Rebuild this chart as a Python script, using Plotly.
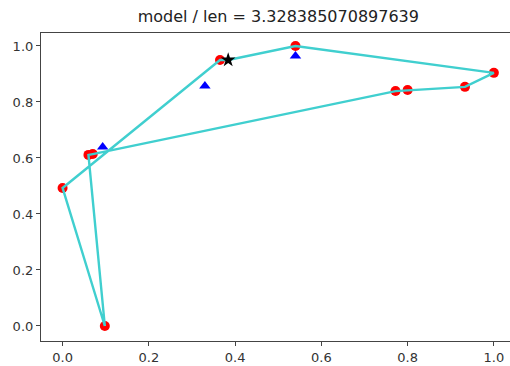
import plotly.graph_objects as go

# red city points
city_x = [0.098, 0.0, 0.365, 0.54, 1.0, 0.933, 0.80, 0.772, 0.07, 0.06]
city_y = [0.0, 0.493, 0.95, 1.0, 0.904, 0.854, 0.843, 0.839, 0.614, 0.611]

# tour path (closed)
tour_x = [0.098, 0.0, 0.365, 0.384, 0.54, 1.0, 0.933, 0.80, 0.772, 0.07, 0.06, 0.098]
tour_y = [0.0, 0.493, 0.95, 0.95, 1.0, 0.904, 0.854, 0.843, 0.839, 0.614, 0.611, 0.0]

# blue triangles
tri_x = [0.093, 0.33, 0.54]
tri_y = [0.639, 0.857, 0.964]

# black star
star_x = [0.384]
star_y = [0.95]

title_text = "model / len = 3.328385070897639"

fig = go.Figure()
fig.add_trace(go.Scatter(x=city_x, y=city_y, mode="markers",
                         marker=dict(color="red", size=10, line=dict(width=0)),
                         showlegend=False))
fig.add_trace(go.Scatter(x=tri_x, y=tri_y, mode="markers",
                         marker=dict(color="blue", size=10, symbol="triangle-up", line=dict(width=0)),
                         showlegend=False))
fig.add_trace(go.Scatter(x=tour_x, y=tour_y, mode="lines",
                         line=dict(color="#40CFCF", width=2.4),
                         showlegend=False))
fig.add_trace(go.Scatter(x=star_x, y=star_y, mode="markers",
                         marker=dict(color="black", size=11, symbol="star", line=dict(width=0)),
                         showlegend=False))

axis_common = dict(showgrid=False, zeroline=False, showline=True, linecolor="#444",
                   linewidth=1.2, ticks="outside", ticklen=4, tickcolor="#444",
                   tickfont=dict(family="DejaVu Sans", size=13, color="#333"))

fig.update_layout(
    width=510, height=366,
    margin=dict(l=41, r=0, t=33, b=25),
    plot_bgcolor="white", paper_bgcolor="white",
    title=dict(text=title_text, xref="paper", x=0.506, xanchor="center",
               yref="container", y=0.955, yanchor="middle",
               font=dict(family="DejaVu Sans", size=16, color="#222")),
    xaxis=dict(range=[-0.05, 1.0374], tickvals=[0, 0.2, 0.4, 0.6, 0.8, 1.0],
               ticktext=["0.0", "0.2", "0.4", "0.6", "0.8", "1.0"], mirror=True, **axis_common),
    yaxis=dict(range=[-0.0536, 1.0464], tickvals=[0, 0.2, 0.4, 0.6, 0.8, 1.0],
               ticktext=["0.0", "0.2", "0.4", "0.6", "0.8", "1.0"], **axis_common),
)

fig.write_html("out.html")
